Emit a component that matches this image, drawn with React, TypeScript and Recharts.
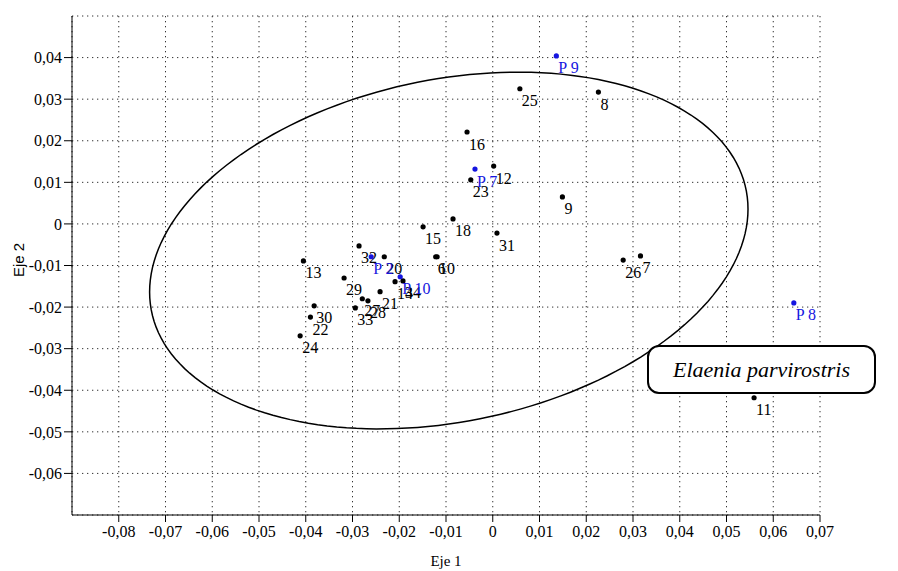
import { ScatterChart, Scatter, XAxis, YAxis, CartesianGrid } from "recharts";

// sitios (puntos negros)
const siteLabels = ["25", "8", "16", "12", "23", "9", "18", "15", "31", "26", "7", "11", "13", "32", "20", "6", "10", "14", "34", "29", "21", "27", "28", "33", "30", "22", "24"];
const siteEje1 = [0.0058, 0.0226, -0.0055, 0.0002, -0.0047, 0.0149, -0.0085, -0.0149, 0.0009, 0.0279, 0.0316, 0.0559, -0.0405, -0.0286, -0.0232, -0.0122, -0.0119, -0.0209, -0.0192, -0.0318, -0.0241, -0.0279, -0.0267, -0.0294, -0.0382, -0.039, -0.0412];
const siteEje2 = [0.0325, 0.0317, 0.0221, 0.0139, 0.0106, 0.0065, 0.0012, -0.0007, -0.0022, -0.0087, -0.0077, -0.0418, -0.0089, -0.0053, -0.0079, -0.0079, -0.0079, -0.0139, -0.0137, -0.013, -0.0163, -0.018, -0.0185, -0.0202, -0.0197, -0.0224, -0.0269];

// parcelas (puntos azules)
const parcelLabels = ["P 9", "P 7", "P 2", "P 10", "P 8"];
const parcelEje1 = [0.0136, -0.0038, -0.026, -0.0198, 0.0644];
const parcelEje2 = [0.0404, 0.0132, -0.0079, -0.0127, -0.019];

const xTicks = [-0.08, -0.07, -0.06, -0.05, -0.04, -0.03, -0.02, -0.01, 0, 0.01, 0.02, 0.03, 0.04, 0.05, 0.06, 0.07];
const yTicks = [0.05, 0.04, 0.03, 0.02, 0.01, 0, -0.01, -0.02, -0.03, -0.04, -0.05, -0.06];

// elipse: centro, semiancho en x, semialto en y, covarianza
const ellipseCenter = [-0.0094, -0.0064];
const ellipseHalfX = 0.064;
const ellipseHalfY = 0.0429;
const ellipseCov = 0.000638;

const speciesName = "Elaenia parvirostris";

const sites = siteLabels.map((label, i) => ({ label, x: siteEje1[i], y: siteEje2[i] }));
const parcels = parcelLabels.map((label, i) => ({ label, x: parcelEje1[i], y: parcelEje2[i] }));

const l11 = ellipseHalfX;
const l21 = ellipseCov / ellipseHalfX;
const l22 = Math.sqrt(ellipseHalfY * ellipseHalfY - l21 * l21);
const ellipse = Array.from({ length: 181 }, (_, i) => {
  const t = (i / 180) * Math.PI * 2;
  return {
    x: ellipseCenter[0] + l11 * Math.cos(t),
    y: ellipseCenter[1] + l21 * Math.cos(t) + l22 * Math.sin(t),
  };
});

const fmt = (v: number) => (v === 0 ? "0" : v.toFixed(2).replace(".", ","));

const serif = "Liberation Serif, Times New Roman, serif";

const labelledDot = (color: string) => (props: any) => {
  const { cx, cy, payload } = props;
  return (
    <g>
      <circle cx={cx} cy={cy} r={2.6} fill={color} />
      <text
        x={cx + 2}
        y={cy + 12}
        dominantBaseline="central"
        fill={color}
        style={{ fontFamily: serif, fontSize: 16 }}
      >
        {payload.label}
      </text>
    </g>
  );
};

const tickStyle = { fill: "#000", fontSize: 16, fontFamily: serif, style: { fontFamily: serif } };

export default function App() {
  return (
    <div style={{ position: "relative", width: 890, height: 563, fontFamily: serif }}>
      <ScatterChart
        width={890}
        height={563}
        margin={{ top: 8, right: 78, bottom: 0, left: 0 }}
        style={{ fontFamily: serif }}
      >
        <CartesianGrid stroke="#333" strokeDasharray="1.3 3.7" />
        <XAxis
          type="number"
          dataKey="x"
          domain={[-0.09, 0.07]}
          ticks={xTicks}
          tickFormatter={fmt}
          allowDataOverflow
          height={56}
          tickSize={7}
          tickMargin={4}
          stroke="#000"
          tick={tickStyle}
          label={{ value: "Eje 1", position: "insideBottom", offset: 5, fill: "#000", fontSize: 15, style: { fontFamily: serif } }}
        />
        <YAxis
          type="number"
          dataKey="y"
          domain={[-0.07, 0.05]}
          ticks={yTicks}
          tickFormatter={fmt}
          allowDataOverflow
          width={64}
          tickSize={8}
          tickMargin={2}
          stroke="#000"
          tick={tickStyle}
        />
        <Scatter
          data={ellipse}
          line={{ stroke: "#000", strokeWidth: 1.5 }}
          lineType="joint"
          shape={() => <g />}
          isAnimationActive={false}
        />
        <Scatter data={sites} shape={labelledDot("#000")} isAnimationActive={false} />
        <Scatter data={parcels} shape={labelledDot("#1515e0")} isAnimationActive={false} />
      </ScatterChart>
      <div
        style={{
          position: "absolute",
          left: -6,
          top: 244,
          transform: "rotate(-90deg)",
          transformOrigin: "center",
          fontFamily: "Liberation Sans, Arial, sans-serif",
          fontSize: 15,
          lineHeight: "16px",
        }}
      >
        Eje 2
      </div>
      <div
        style={{
          position: "absolute",
          left: 639,
          top: 337,
          width: 229,
          height: 49,
          boxSizing: "border-box",
          border: "2px solid #000",
          borderRadius: 12,
          background: "#fff",
          display: "flex",
          alignItems: "center",
          justifyContent: "center",
          fontStyle: "italic",
          fontSize: 22,
        }}
      >
        {speciesName}
      </div>
    </div>
  );
}
